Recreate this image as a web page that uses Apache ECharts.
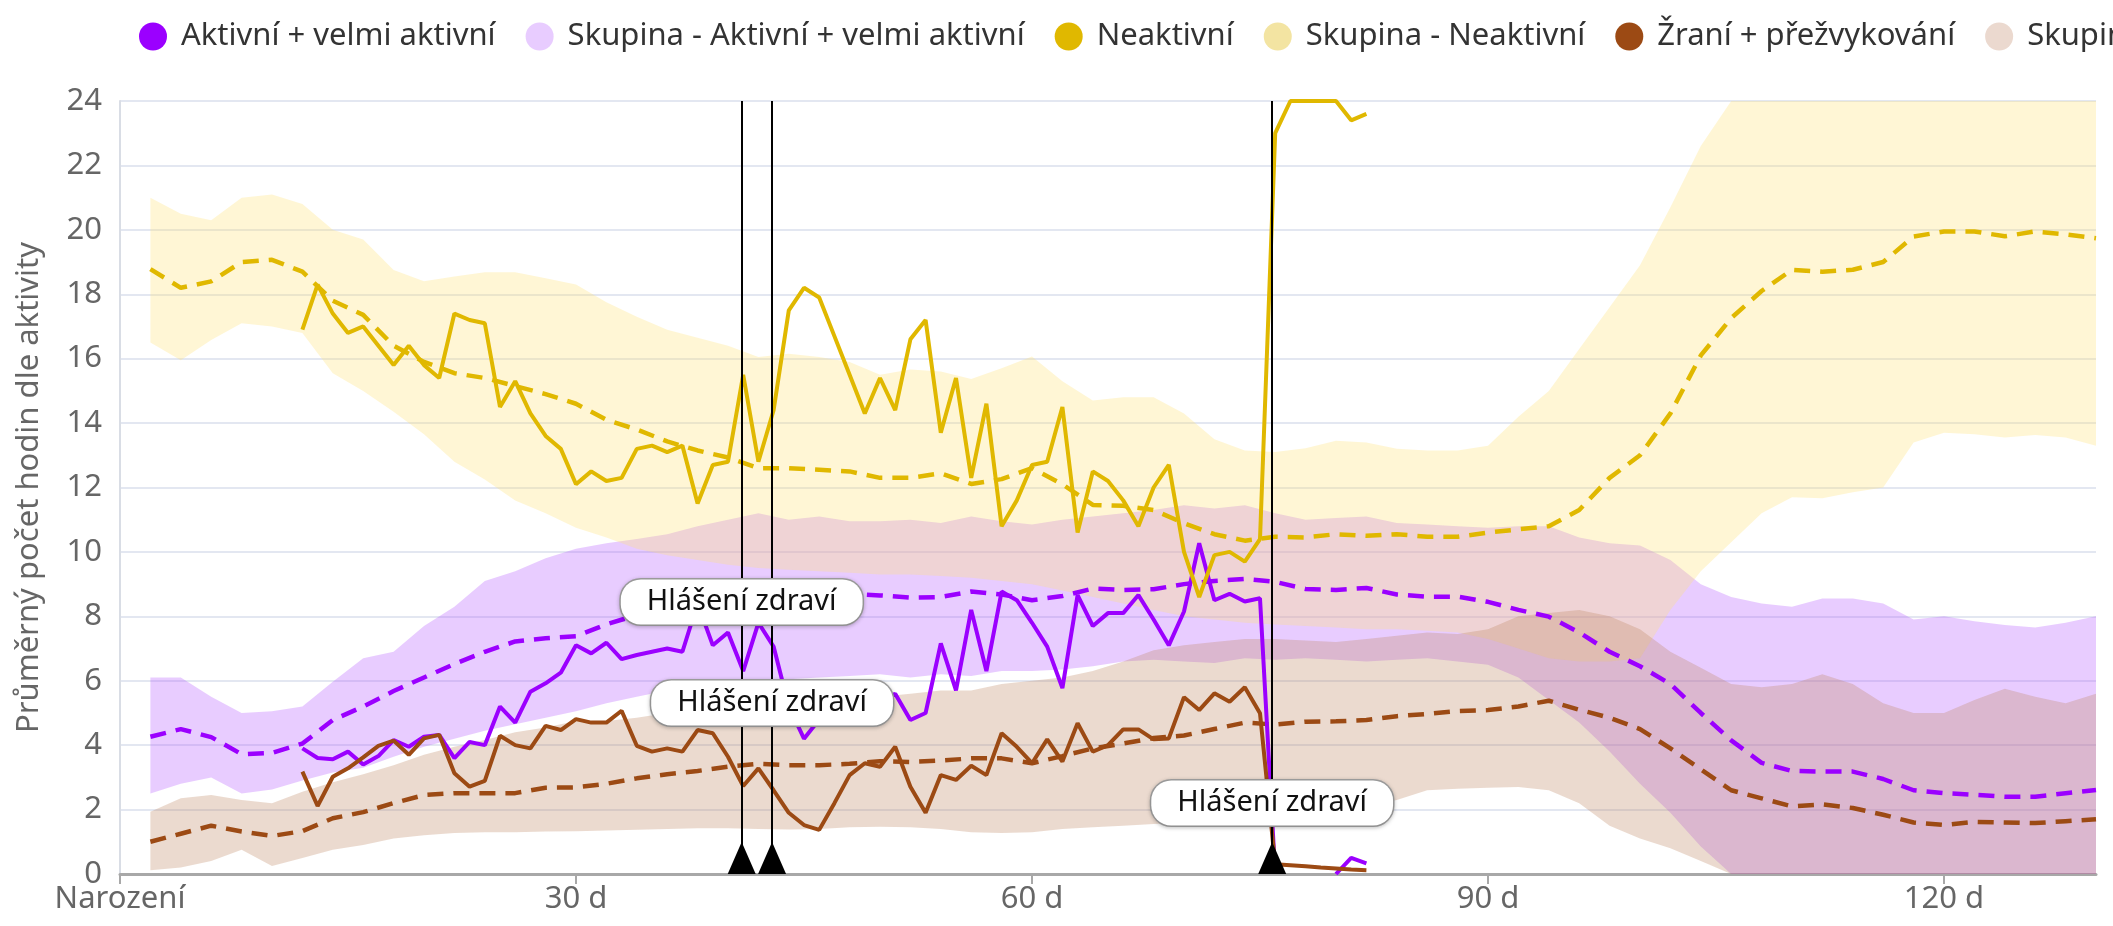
<!DOCTYPE html>
<html>
<head>
<meta charset="utf-8">
<title>Aktivita</title>
<script src="https://cdn.jsdelivr.net/npm/echarts@6/dist/echarts.min.js"></script>
<style>
  html, body { margin: 0; padding: 0; background: #fff; }
  #chart { width: 2113px; height: 926px; }
</style>
</head>
<body>
<div id="chart"></div>
<script>
// dny od narozeni (zvire: kazdy den, skupina: kazdy druhy den)
const cowDays = Array.from({ length: 71 }, (_, i) => 12 + i);
const groupDays = Array.from({ length: 65 }, (_, i) => 2 + 2 * i);

// zvire - hodiny za den
const cowActive = [3.9, 3.6, 3.56, 3.8, 3.4, 3.66, 4.16, 3.95, 4.26, 4.32, 3.6, 4.1, 4.0, 5.2, 4.7, 5.66, 5.92, 6.25, 7.1, 6.85,
  7.18, 6.67, 6.8, 6.9, 7.0, 6.9, 8.4, 7.1, 7.5, 6.3, 7.8, 7.06, 5.2, 4.2, 4.8, 5.8, 5.7, 6.0, 5.2, 5.6,
  4.78, 5.0, 7.16, 5.7, 8.2, 6.3, 8.77, 8.5, 7.8, 7.06, 5.77, 8.66, 7.7, 8.1, 8.1, 8.66, 7.9, 7.1, 8.15, 10.27,
  8.5, 8.7, 8.46, 8.56, 0, null, null, null, 0, 0.5, 0.33];
const cowInactive = [16.9, 18.3, 17.4, 16.8, 17.0, 16.4, 15.8, 16.4, 15.8, 15.4, 17.4, 17.2, 17.1, 14.5, 15.3, 14.3, 13.6, 13.2, 12.1, 12.5,
  12.2, 12.3, 13.2, 13.3, 13.1, 13.3, 11.5, 12.7, 12.8, 15.5, 12.8, 14.4, 17.5, 18.2, 17.9, 16.7, 15.5, 14.3, 15.4, 14.4,
  16.6, 17.2, 13.7, 15.4, 12.3, 14.6, 10.8, 11.6, 12.7, 12.8, 14.5, 10.6, 12.5, 12.2, 11.6, 10.8, 12.0, 12.7, 10.0, 8.6,
  9.9, 10.0, 9.7, 10.4, 23.0, 24, 24, 24, 24, 23.4, 23.6];
const cowEating = [3.18, 2.11, 3.02, 3.28, 3.62, 3.98, 4.14, 3.7, 4.21, 4.32, 3.13, 2.71, 2.89, 4.29, 4.0, 3.9, 4.6, 4.47, 4.81, 4.7,
  4.7, 5.07, 3.98, 3.8, 3.9, 3.8, 4.47, 4.37, 3.64, 2.73, 3.28, 2.6, 1.9, 1.52, 1.37, 2.2, 3.07, 3.44, 3.33, 3.95,
  2.71, 1.9, 3.07, 2.92, 3.36, 3.07, 4.37, 3.95, 3.44, 4.18, 3.49, 4.68, 3.8, 4.0, 4.49, 4.49, 4.18, 4.21, 5.49, 5.09,
  5.61, 5.35, 5.8, 4.99, 0.3, 0.27, 0.24, 0.2, 0.17, 0.14, 0.12];

// skupina - prumer a rozpeti
const actMean = [4.26, 4.5, 4.25, 3.72, 3.76, 4.05, 4.78, 5.2, 5.68, 6.1, 6.52, 6.9, 7.22, 7.32, 7.38, 7.75, 8.04, 8.2, 8.35, 8.45,
  8.5, 8.55, 8.6, 8.7, 8.65, 8.58, 8.6, 8.77, 8.68, 8.5, 8.63, 8.86, 8.82, 8.84, 9.0, 9.1, 9.16, 9.07, 8.85, 8.82,
  8.88, 8.68, 8.61, 8.61, 8.45, 8.2, 7.99, 7.5, 6.9, 6.45, 5.9, 5.0, 4.15, 3.45, 3.2, 3.18, 3.18, 2.95, 2.6, 2.51,
  2.46, 2.4, 2.4, 2.51, 2.61];
const actHigh = [6.1, 6.1, 5.5, 5.0, 5.05, 5.2, 5.97, 6.7, 6.9, 7.7, 8.3, 9.1, 9.4, 9.8, 10.1, 10.27, 10.4, 10.55, 10.8, 11.0,
  11.2, 11.0, 11.1, 10.95, 10.95, 11.0, 10.9, 11.1, 10.95, 10.85, 11.0, 11.1, 11.2, 11.3, 11.45, 11.35, 11.45, 11.2, 11.0, 11.05,
  11.1, 10.9, 10.85, 10.8, 10.75, 10.8, 10.8, 10.45, 10.27, 10.2, 9.75, 9.0, 8.6, 8.4, 8.3, 8.55, 8.55, 8.4, 7.9, 8.0,
  7.85, 7.73, 7.65, 7.8, 8.0];
const actLow = [2.5, 2.8, 3.0, 2.5, 2.62, 2.9, 3.15, 3.3, 3.64, 3.95, 4.2, 4.45, 4.65, 4.85, 5.05, 5.3, 5.5, 5.7, 5.85, 5.95,
  6.0, 6.05, 6.1, 6.15, 6.2, 6.1, 6.2, 6.15, 6.3, 6.3, 6.35, 6.45, 6.6, 6.65, 6.6, 6.55, 6.7, 6.65, 6.7, 6.65,
  6.6, 6.65, 6.7, 6.6, 6.5, 6.1, 5.4, 4.7, 3.8, 2.8, 1.9, 0.85, 0, 0, 0, 0, 0, 0, 0, 0,
  0, 0, 0, 0, 0];

const inMean = [18.78, 18.2, 18.4, 19.0, 19.07, 18.7, 17.8, 17.36, 16.4, 15.9, 15.55, 15.4, 15.15, 14.9, 14.6, 14.1, 13.8, 13.43, 13.15, 12.93,
  12.6, 12.6, 12.55, 12.5, 12.3, 12.3, 12.44, 12.11, 12.26, 12.6, 12.1, 11.46, 11.43, 11.3, 10.89, 10.55, 10.35, 10.47, 10.45, 10.55,
  10.5, 10.55, 10.47, 10.47, 10.6, 10.7, 10.8, 11.3, 12.3, 13.0, 14.3, 16.1, 17.26, 18.1, 18.76, 18.7, 18.76, 19.0, 19.79, 19.95,
  19.95, 19.8, 19.95, 19.86, 19.74];
const inHigh = [21.0, 20.5, 20.3, 21.0, 21.1, 20.8, 20.0, 19.7, 18.75, 18.4, 18.55, 18.68, 18.68, 18.5, 18.3, 17.75, 17.3, 16.9, 16.65, 16.4,
  16.05, 16.15, 16.05, 15.9, 15.5, 15.66, 15.6, 15.37, 15.7, 16.07, 15.3, 14.7, 14.8, 14.8, 14.3, 13.5, 13.15, 13.1, 13.22, 13.45,
  13.4, 13.2, 13.15, 13.15, 13.3, 14.2, 15.0, 16.3, 17.6, 18.9, 20.7, 22.6, 24.0, 25, 25, 25, 25, 25, 25, 25,
  25, 25, 25, 25, 25];
const inLow = [16.5, 15.95, 16.58, 17.1, 17.0, 16.8, 15.55, 15.0, 14.35, 13.65, 12.8, 12.25, 11.6, 11.2, 10.75, 10.45, 10.1, 9.9, 9.75, 9.6,
  9.5, 9.45, 9.4, 9.35, 9.3, 9.3, 9.25, 9.2, 9.1, 9.0, 8.8, 8.6, 8.4, 8.2, 8.0, 7.9, 7.8, 7.75, 7.7, 7.65,
  7.6, 7.6, 7.55, 7.5, 7.3, 7.0, 6.7, 6.6, 6.6, 6.7, 8.2, 9.4, 10.3, 11.2, 11.7, 11.67, 11.85, 12.0, 13.4, 13.7,
  13.65, 13.55, 13.63, 13.55, 13.3];

const eatMean = [1.0, 1.25, 1.5, 1.32, 1.18, 1.33, 1.73, 1.92, 2.2, 2.45, 2.51, 2.51, 2.51, 2.68, 2.69, 2.8, 2.97, 3.1, 3.2, 3.33,
  3.42, 3.38, 3.38, 3.42, 3.5, 3.48, 3.52, 3.59, 3.59, 3.44, 3.66, 3.9, 4.05, 4.22, 4.3, 4.5, 4.7, 4.64, 4.73, 4.74,
  4.78, 4.9, 4.97, 5.06, 5.09, 5.2, 5.38, 5.1, 4.85, 4.5, 3.9, 3.25, 2.6, 2.35, 2.1, 2.16, 2.05, 1.84, 1.6, 1.52,
  1.62, 1.6, 1.58, 1.64, 1.7];
const eatHigh = [1.93, 2.35, 2.45, 2.3, 2.2, 2.55, 2.85, 3.1, 3.38, 3.7, 3.95, 4.16, 4.4, 4.55, 4.75, 4.75, 4.85, 5.0, 5.3, 5.4,
  5.5, 5.65, 5.6, 5.5, 5.5, 5.6, 5.7, 5.7, 5.9, 6.0, 6.1, 6.3, 6.6, 6.95, 7.1, 7.2, 7.3, 7.3, 7.25, 7.2,
  7.3, 7.4, 7.5, 7.45, 7.6, 8.0, 8.1, 8.2, 8.0, 7.6, 6.9, 6.4, 5.9, 5.8, 5.9, 6.2, 5.9, 5.3, 5.0, 5.0,
  5.4, 5.75, 5.5, 5.3, 5.6];
const eatLow = [0.12, 0.2, 0.4, 0.75, 0.25, 0.5, 0.75, 0.9, 1.1, 1.2, 1.27, 1.3, 1.3, 1.32, 1.33, 1.35, 1.37, 1.4, 1.42, 1.42,
  1.4, 1.38, 1.4, 1.45, 1.47, 1.45, 1.4, 1.3, 1.27, 1.3, 1.4, 1.45, 1.5, 1.55, 1.6, 1.65, 1.7, 1.8, 1.9, 2.0,
  2.1, 2.3, 2.6, 2.65, 2.68, 2.7, 2.6, 2.2, 1.5, 1.1, 0.8, 0.4, 0, 0, 0, 0, 0, 0, 0, 0,
  0, 0, 0, 0, 0];

// hlaseni zdravi
const flagDays = [40.9, 42.9, 75.8];
const flagText = 'Hlášení zdraví';

const FONT = '"Noto Sans", sans-serif';
const C_ACT = '#9b00ff', C_IN = '#e0b800', C_EAT = '#9c4a14';
const N_ACT = 'Aktivní + velmi aktivní', N_IN = 'Neaktivní', N_EAT = 'Žraní + přežvykování';
const G = 'Skupina - ';
const Y_MAX = 24;

function pairs(days, vals) {
  return days.map((d, i) => [d, vals[i]]);
}

// rozpeti skupiny jako jeden polygon (horni okraj tam, dolni zpet)
function band(name, low, high, fill) {
  return {
    name, type: 'custom', silent: true, z: 1, clip: true,
    data: groupDays.map((d, i) => [d, low[i], high[i]]),
    renderItem: (params, api) => {
      if (params.dataIndex !== 0) return null;
      const top = groupDays.map((d, i) => api.coord([d, Math.min(high[i], Y_MAX)]));
      const bottom = groupDays.map((d, i) => api.coord([d, low[i]])).reverse();
      return { type: 'polygon', shape: { points: top.concat(bottom) }, style: { fill } };
    }
  };
}

function meanLine(name, vals, color) {
  return { name, type: 'line', data: pairs(groupDays, vals), symbol: 'none', z: 2,
    itemStyle: { color }, lineStyle: { color, width: 4.5, type: [16, 10] } };
}

function cowLine(name, vals, color) {
  return { name, type: 'line', data: pairs(cowDays, vals), symbol: 'none', z: 3,
    itemStyle: { color }, lineStyle: { color, width: 4 } };
}

const labelLift = [272, 171, 71];

const chart = echarts.init(document.getElementById('chart'));
chart.setOption({
  animation: false,
  legend: {
    left: 134, top: 16, width: 4000, itemWidth: 28, itemHeight: 28, itemGap: 30, icon: 'circle',
    textStyle: { fontFamily: FONT, fontSize: 31, color: '#333', padding: [0, 0, 0, 9] },
    data: [
      { name: N_ACT, itemStyle: { color: C_ACT } },
      { name: G + N_ACT, itemStyle: { color: '#e8ccff' } },
      { name: N_IN, itemStyle: { color: C_IN } },
      { name: G + N_IN, itemStyle: { color: '#f3e4a2' } },
      { name: N_EAT, itemStyle: { color: C_EAT } },
      { name: G + N_EAT, itemStyle: { color: '#ebd9cf' } }
    ]
  },
  grid: { left: 120, right: 17, top: 101, bottom: 52 },
  xAxis: {
    type: 'value', min: 0, max: 130, interval: 30,
    axisLine: { lineStyle: { color: '#a8a8a8', width: 3 } },
    axisTick: { show: true, length: 10, lineStyle: { color: '#a8a8a8', width: 2 } },
    axisLabel: { fontFamily: FONT, fontSize: 31, color: '#666', margin: 10, showMaxLabel: false,
      formatter: v => (v === 0 ? 'Narození' : v + ' d') },
    splitLine: { show: false }
  },
  yAxis: {
    type: 'value', min: 0, max: Y_MAX, interval: 2,
    name: 'Průměrný počet hodin dle aktivity', nameLocation: 'middle', nameGap: 75,
    nameTextStyle: { fontFamily: FONT, fontSize: 31, color: '#666' },
    axisLine: { show: true, lineStyle: { color: '#d9dde5', width: 2 } },
    axisTick: { show: false },
    axisLabel: { fontFamily: FONT, fontSize: 31, color: '#666', margin: 18 },
    splitLine: { lineStyle: { color: '#e3e7f1', width: 2 } }
  },
  series: [
    band(G + N_ACT, actLow, actHigh, 'rgba(178,85,255,0.3)'),
    band(G + N_IN, inLow, inHigh, 'rgba(255,225,115,0.3)'),
    band(G + N_EAT, eatLow, eatHigh, 'rgba(188,132,95,0.3)'),
    meanLine(G + N_ACT, actMean, C_ACT),
    meanLine(G + N_IN, inMean, C_IN),
    meanLine(G + N_EAT, eatMean, C_EAT),
    cowLine(N_ACT, cowActive, C_ACT),
    cowLine(N_IN, cowInactive, C_IN),
    cowLine(N_EAT, cowEating, C_EAT),
    {
      type: 'scatter', silent: true, z: 6,
      data: flagDays.map(d => [d, 0]),
      symbol: 'triangle', symbolSize: [28, 32], symbolOffset: [0, '-50%'],
      itemStyle: { color: '#000', opacity: 1 },
      markLine: {
        silent: true, symbol: ['none', 'none'], label: { show: false },
        lineStyle: { color: '#000', width: 2, type: 'solid', opacity: 1 },
        data: flagDays.map(d => ({ xAxis: d }))
      }
    },
    {
      type: 'scatter', silent: true, z: 10,
      data: flagDays.map((d, i) => ({ value: [d, 0], label: { offset: [0, -labelLift[i]] } })),
      symbol: 'rect', symbolSize: 1, itemStyle: { color: 'rgba(0,0,0,0)', opacity: 1 },
      label: {
        show: true, position: 'inside', formatter: flagText,
        fontFamily: FONT, fontSize: 29, color: '#111',
        backgroundColor: '#fff', borderColor: '#a0a0a0', borderWidth: 1.5, borderRadius: 20,
        padding: [8, 26], shadowBlur: 4, shadowColor: 'rgba(0,0,0,0.2)', shadowOffsetY: 1
      }
    }
  ]
});
</script>
</body>
</html>
